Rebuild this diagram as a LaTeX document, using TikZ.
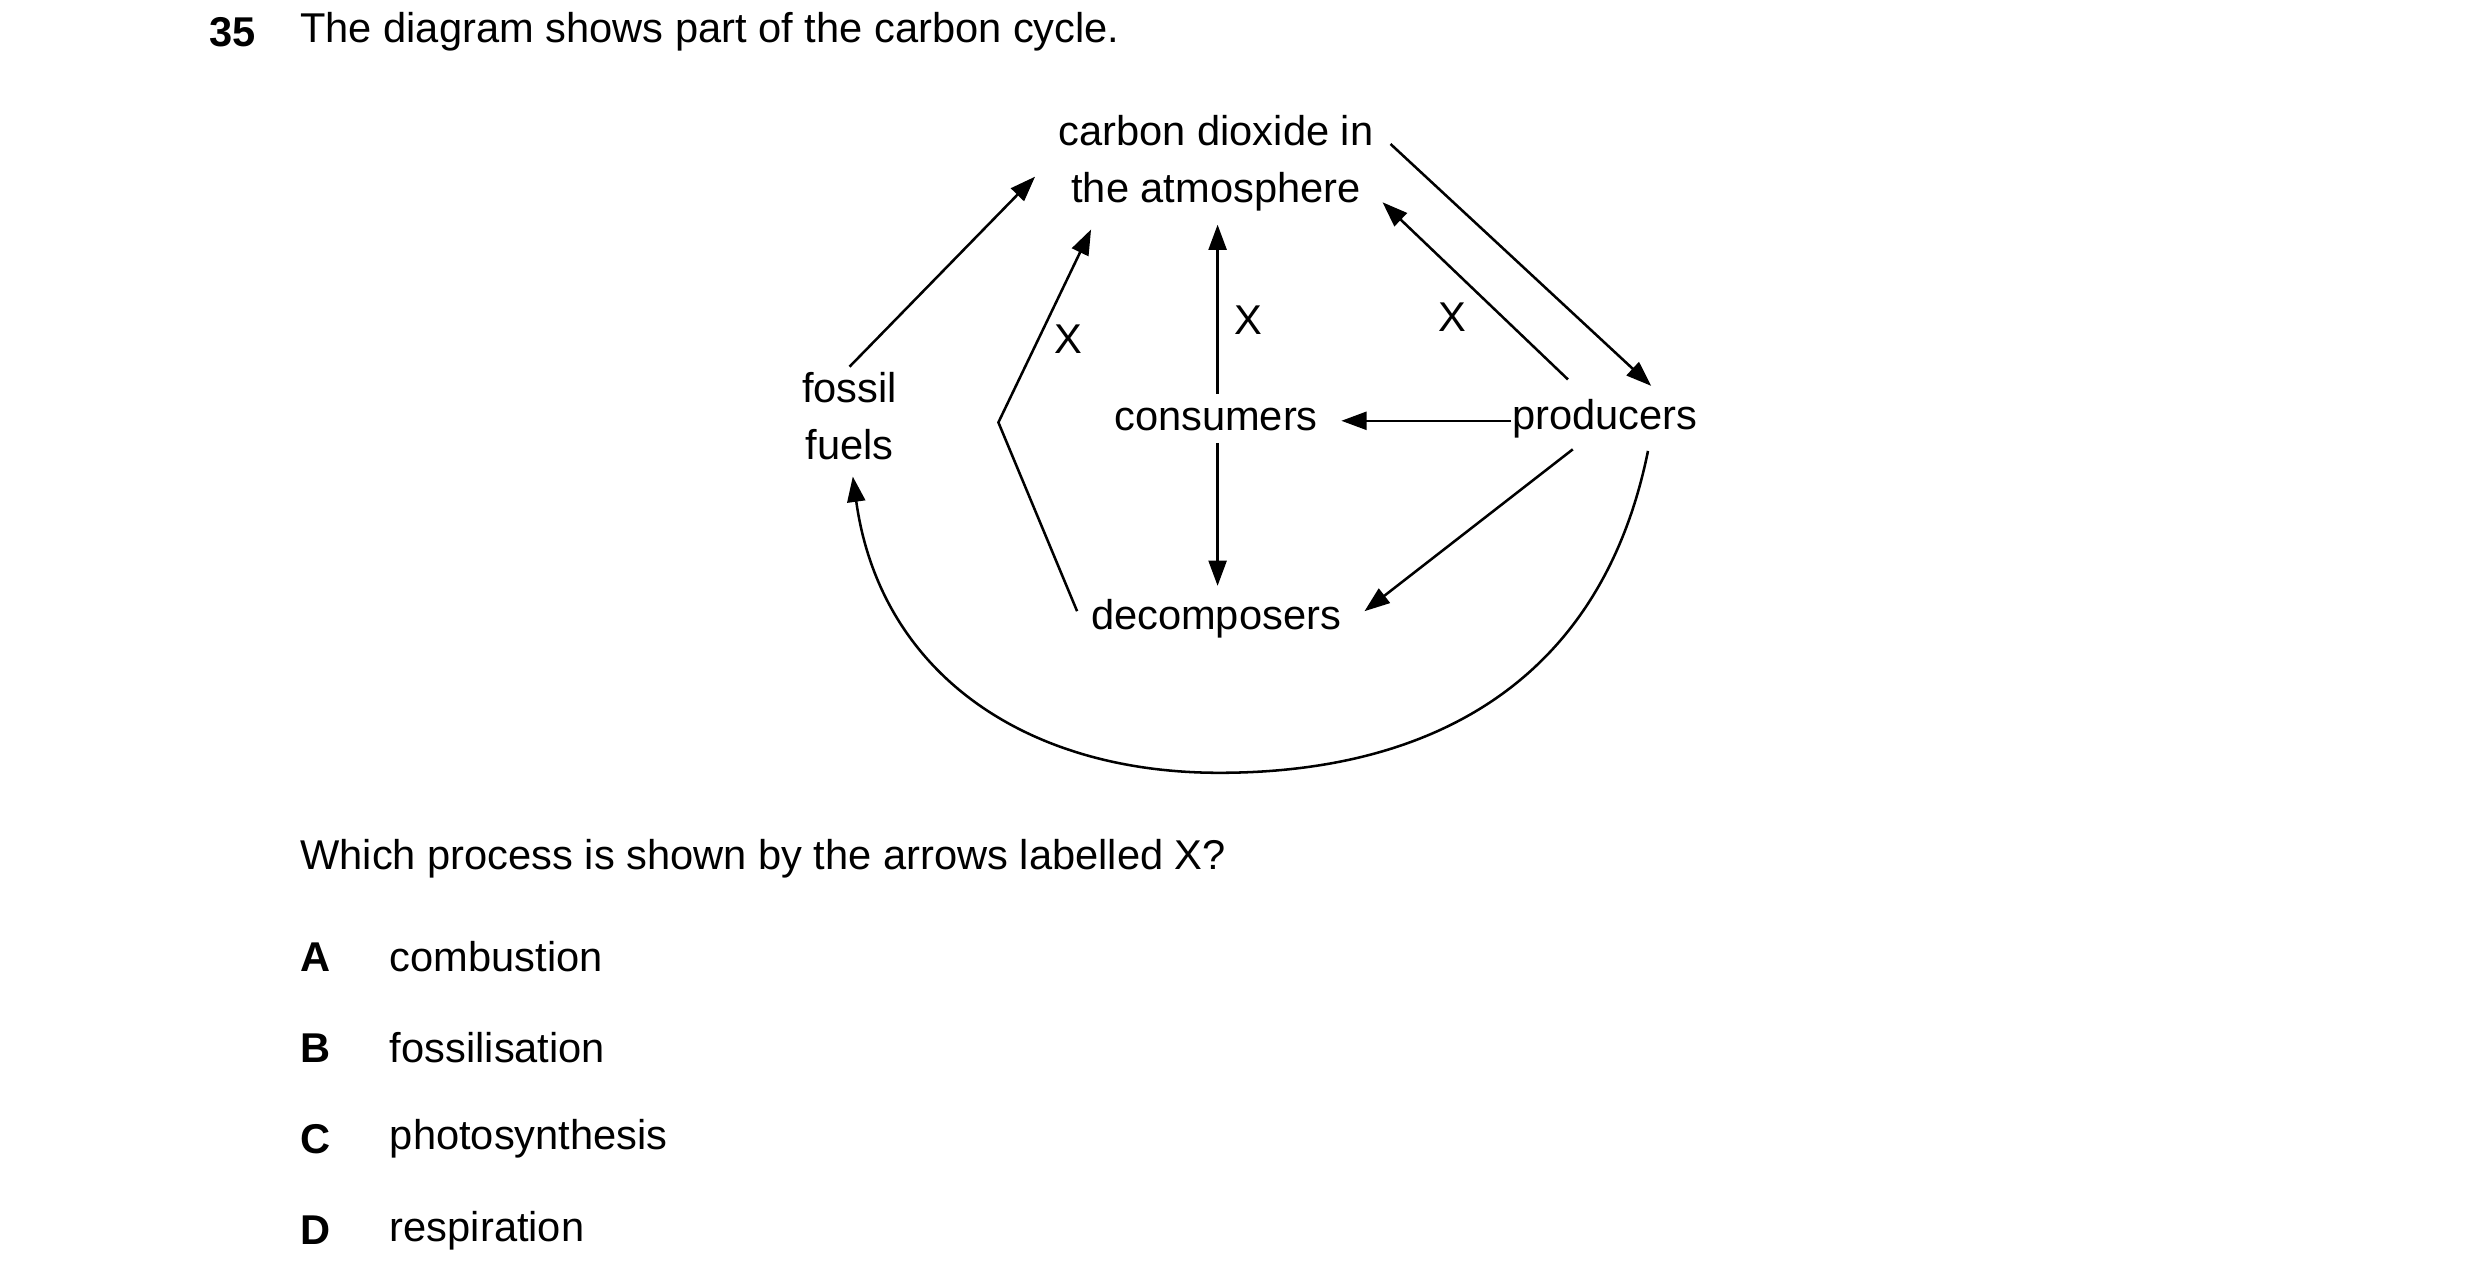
\documentclass[tikz,border=0pt]{standalone}
\usepackage{fontspec}
\setmainfont{Liberation Sans}
\usetikzlibrary{arrows.meta,calc}
\begin{document}
\begin{tikzpicture}[x=0.01cm,y=-0.01cm,
    lbl/.style={inner sep=0pt,font=\fontsize{7.4}{10}\selectfont},
    txt/.style={lbl,anchor=west},
    arr/.style={line width=0.45pt,-{Triangle[length=4.5pt,width=3.2pt]}}]
  \useasboundingbox (0,0) rectangle (1550,800);
  % question
  \node[txt,font=\fontsize{7.4}{10}\selectfont\bfseries] (num) at (130,20) {35};
  \node[txt] (intro) at (187,20) {The diagram shows part of the carbon cycle.};
  % cycle
  \node[lbl,align=center] (co2) at (760,102) {carbon dioxide in\\the atmosphere};
  \node[lbl,align=center] (fossil) at (531,260) {fossil\\fuels};
  \node[lbl] (consumers) at (760,262) {consumers};
  \node[lbl] (producers) at (1003,262) {producers};
  \node[lbl] (decomposers) at (760,387) {decomposers};
  \node[lbl] (x1) at (668,212) {X};
  \node[lbl] (x2) at (780,200) {X};
  \node[lbl] (x3) at (908,198) {X};
  \coordinate (kink) at (624,264);
  \coordinate (low) at (762,483);
  \draw[arr] ($(fossil.north)+(0,-3)$) -- ($(co2.south west)+(-14,-22)$);
  \draw[arr] ($(decomposers.west)+(-8,-5)$) -- (kink) -- ($(co2.south west)+(21,11)$);
  \draw[arr] ($(consumers.north)+(1,-8)$) -- ($(co2.south)+(1,8)$);
  \draw[arr] ($(producers.north)+(-23,-12)$) -- ($(co2.south east)+(5,-6)$);
  \draw[arr] ($(co2.east)+(10,-12)$) -- ($(producers.north)+(29,-8)$);
  \draw[arr] ($(producers.west)+(0,1)$) -- ($(consumers.east)+(14,1)$);
  \draw[arr] ($(consumers.south)+(1,7)$) -- ($(decomposers.north)+(1,-8)$);
  \draw[arr] ($(producers.south)+(-20,6)$) -- ($(decomposers.east)+(14,-5)$);
  \draw[arr] ($(producers.south)+(27,7)$) .. controls (1000,430) and (890,483) .. (low)
    .. controls (640,483) and (550,420) .. ($(fossil.south)+(2,10)$);
  % answers
  \node[txt] (ask) at (187,537) {Which process is shown by the arrows labelled X?};
  \foreach \k/\w/\yy in {A/combustion/598,B/fossilisation/655,C/photosynthesis/712,D/respiration/769}{
    \node[lbl,font=\fontsize{7.4}{10}\selectfont\bfseries] (key\k) at (197,\yy) {\k};
    \node[txt] (opt\k) at (243,\yy) {\w};
  }
\end{tikzpicture}
\end{document}
